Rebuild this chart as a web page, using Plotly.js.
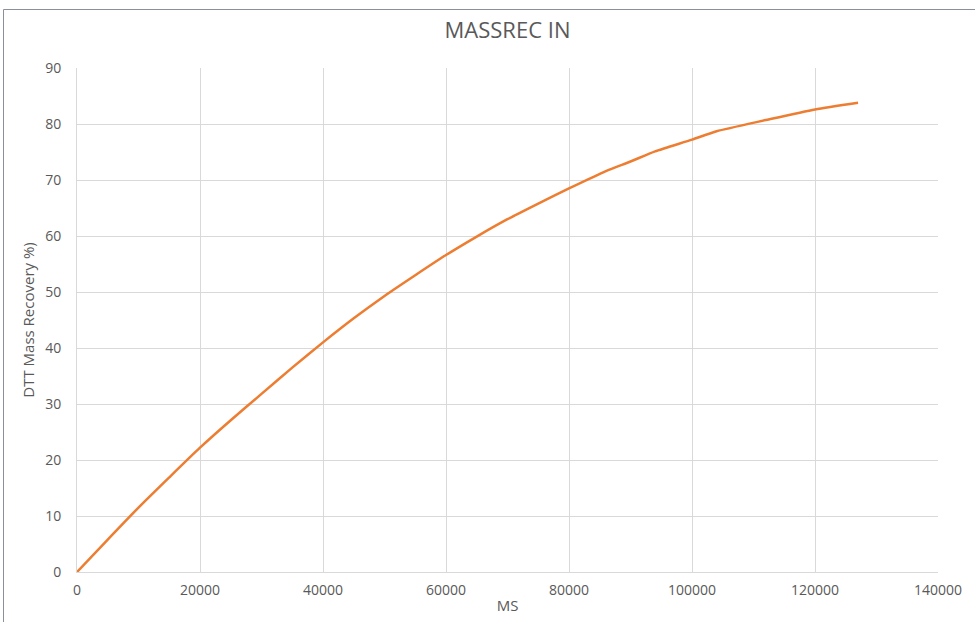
<!DOCTYPE html>
<html>
<head>
<meta charset="utf-8">
<script src="https://cdn.plot.ly/plotly-3.0.1.min.js"></script>
<style>html,body{margin:0;padding:0;background:#fff;}#chart{width:975px;height:622px;}</style>
</head>
<body>
<div id="chart"></div>
<script>
const msValues = [0, 5000, 10000, 15000, 20000, 25000, 30000, 35000, 40000, 45000, 50000, 55000, 60000, 65000, 70000, 75000, 80000, 86000, 90000, 94000, 100000, 104000, 112000, 120000, 127000];
const recoveryValues = [0, 5.8, 11.5, 16.9, 22.2, 27.1, 31.8, 36.5, 41.0, 45.3, 49.3, 53.0, 56.6, 59.9, 63.0, 65.8, 68.5, 71.6, 73.3, 75.1, 77.2, 78.7, 80.7, 82.6, 83.8];
const xTicks = [0, 20000, 40000, 60000, 80000, 100000, 120000, 140000];
const yTicks = [0, 10, 20, 30, 40, 50, 60, 70, 80, 90];

const grey = '#595959';
const trace = {
  x: msValues, y: recoveryValues, type: 'scatter', mode: 'lines',
  line: {color: '#ED7D31', width: 2.5, shape: 'spline', smoothing: 0.6},
  hoverinfo: 'x+y'
};
const layout = {
  width: 975, height: 622,
  margin: {l: 77, r: 37, t: 68, b: 50},
  paper_bgcolor: '#fff', plot_bgcolor: '#fff',
  showlegend: false,
  font: {family: 'Open Sans, sans-serif', color: grey, size: 14},
  title: {text: 'MASSREC IN', font: {size: 22, color: grey, family: 'Open Sans, sans-serif'}, xref: 'paper', x: 0.5, xanchor: 'center', y: 0.952, yanchor: 'middle'},
  xaxis: {
    range: [0, 140000], tickvals: xTicks, ticktext: xTicks.map(String),
    showgrid: true, gridcolor: '#d9d9d9', gridwidth: 1,
    zeroline: false, showline: true, linecolor: '#d9d9d9', linewidth: 1,
    ticks: '', ticklabelstandoff: 5,
    title: {text: 'MS', font: {size: 15, color: grey}, standoff: 2}
  },
  yaxis: {
    range: [0, 90], tickvals: yTicks, ticktext: yTicks.map(String),
    showgrid: true, gridcolor: '#d9d9d9', gridwidth: 1,
    zeroline: false, showline: true, linecolor: '#d9d9d9', linewidth: 1,
    ticks: '', ticklabelstandoff: 12,
    title: {text: 'DTT Mass Recovery %)', font: {size: 15, color: grey}, standoff: 6}
  },
  shapes: [{
    type: 'rect', xref: 'paper', yref: 'paper',
    x0: (3.5 - 77) / 861, x1: 1.2, y0: -0.3, y1: (572 - 9.5) / 504,
    line: {color: '#8a9099', width: 1}, fillcolor: 'rgba(0,0,0,0)', layer: 'below'
  }]
};
Plotly.newPlot('chart', [trace], layout, {displayModeBar: false, staticPlot: true});
</script>
</body>
</html>
